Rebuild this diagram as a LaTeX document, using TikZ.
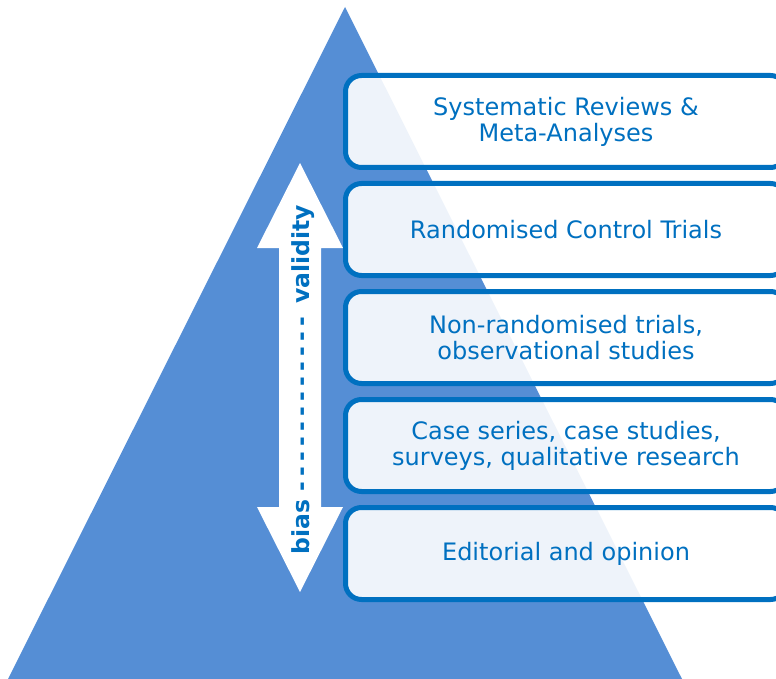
\documentclass[tikz,border=0pt]{standalone}
\usepackage{fontspec}
\setmainfont{DejaVu Sans}
\definecolor{pyramidblue}{RGB}{85,142,213}
\definecolor{boxblue}{RGB}{0,112,192}
\newcommand{\dashrun}{\foreach \n in {1,...,12}{-\kern 5.2pt}}
\begin{document}
\begin{tikzpicture}[
    x = 1pt,
    y = -1pt,
    level/.style = {
      shape = rectangle,
      rounded corners = 16pt,
      draw = boxblue,
      line width = 5pt,
      fill = white,
      fill opacity = 0.9,
      text opacity = 1,
      text = boxblue,
      minimum width = 441pt,
      minimum height = 92pt,
      align = center,
      font = \fontsize{24}{26}\selectfont
    },
    axis/.style = {
      text = boxblue,
      font = \fontsize{23.5}{26}\selectfont\bfseries,
      inner sep = 0pt
    }
  ]
    \useasboundingbox (0, 0) rectangle (776, 679);
    \fill[pyramidblue] (345, 7) -- (8, 679) -- (682, 679) -- cycle;

    \fill[white] (300, 163) -- (343, 248) -- (321, 248) -- (321, 507) -- (343, 507)
      -- (300, 592) -- (257, 507) -- (279, 507) -- (279, 248) -- (257, 248) -- cycle;
    \node[axis, rotate = 90, anchor = base] (arrowtext) at (309, 379.5)
      {bias \dashrun{} validity};

    \node[level] (l1) at (566, 121.5) {Systematic Reviews \&\\Meta-Analyses};
    \node[level] (l2) at (566, 229.5) {Randomised Control Trials};
    \node[level] (l3) at (566, 337.5) {Non-randomised trials,\\observational studies};
    \node[level] (l4) at (566, 445.5) {Case series, case studies,\\surveys, qualitative research};
    \node[level] (l5) at (566, 553.5) {Editorial and opinion};
  \end{tikzpicture}
\end{document}
